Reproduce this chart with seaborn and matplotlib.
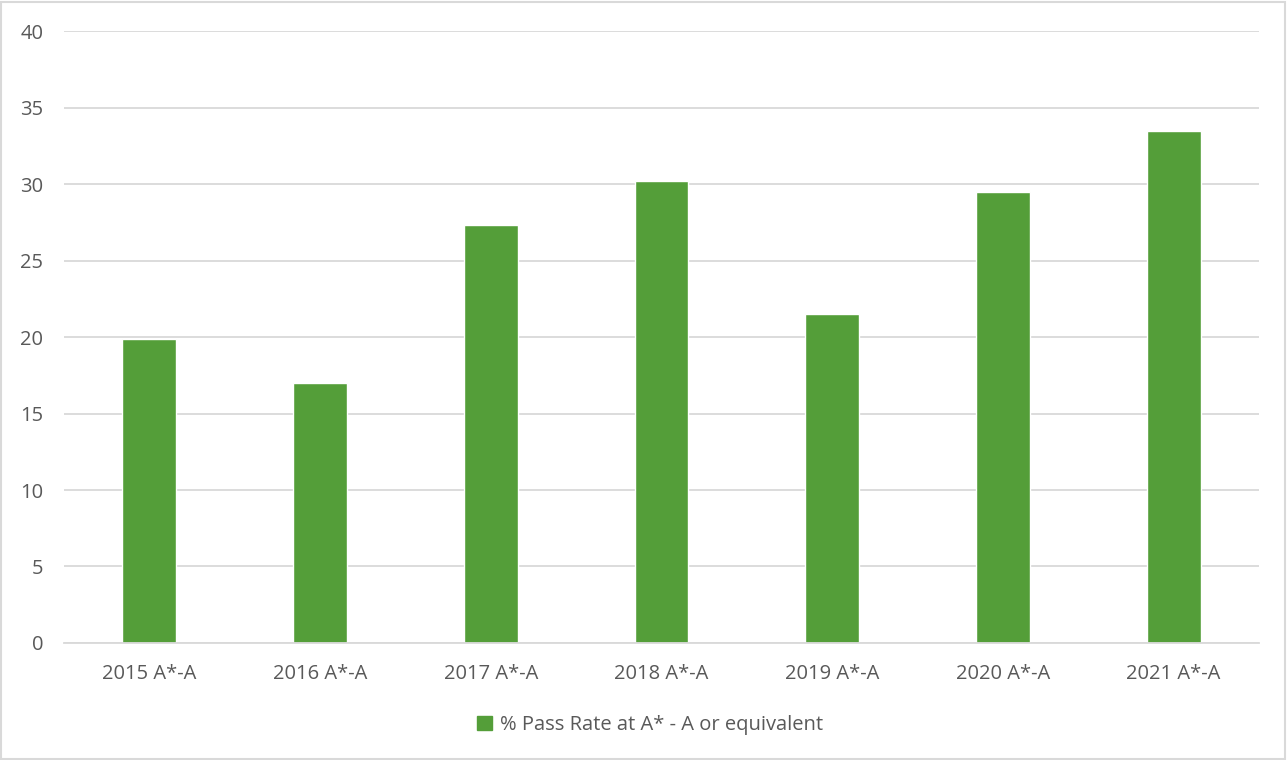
import matplotlib
matplotlib.use("Agg")
import matplotlib.pyplot as plt
import matplotlib.patches as mpatches
import seaborn as sns
import pandas as pd

# data
categories = ["2015 A*-A", "2016 A*-A", "2017 A*-A", "2018 A*-A",
              "2019 A*-A", "2020 A*-A", "2021 A*-A"]
pass_rate = [19.9, 17.0, 27.3, 30.2, 21.5, 29.5, 33.5]
series_name = "% Pass Rate at A* - A or equivalent"
y_ticks = [0, 5, 10, 15, 20, 25, 30, 35, 40]

df = pd.DataFrame({"category": categories, "value": pass_rate})

bar_color = "#549E39"
text_color = "#595959"
grid_color = "#D9D9D9"

sns.set_style("white")
plt.rcParams["font.family"] = ["Open Sans", "DejaVu Sans"]

fig = plt.figure(figsize=(12.88, 7.6), dpi=100)
ax = fig.add_axes([0.0497, 0.154, 0.9278, 0.805])

sns.barplot(data=df, x="category", y="value", color=bar_color,
            width=0.316, saturation=1, ax=ax)

ax.set_ylim(0, 40)
ax.set_xlim(-0.5, len(categories) - 0.5)
ax.set_yticks(y_ticks)
ax.yaxis.grid(True, color=grid_color, linewidth=1.3)
ax.set_axisbelow(True)
for s in ["top", "right", "left"]:
    ax.spines[s].set_visible(False)
ax.spines["bottom"].set_color(grid_color)
ax.spines["bottom"].set_linewidth(1.3)
ax.tick_params(axis="both", length=0, labelsize=14.5, colors=text_color)
ax.tick_params(axis="x", pad=15)
ax.tick_params(axis="y", pad=15)
ax.set_xlabel("")
ax.set_ylabel("")

handle = mpatches.Patch(color=bar_color, label=series_name)
fig.legend(handles=[handle], loc="center", bbox_to_anchor=(0.505, 0.046),
           frameon=False, fontsize=14.5, labelcolor=text_color,
           handlelength=0.75, handleheight=0.75, handletextpad=0.4)

# thin border around the chart
fig.patches.append(mpatches.Rectangle((0.001, 0.001), 0.997, 0.997,
                                      transform=fig.transFigure, fill=False,
                                      edgecolor=grid_color, linewidth=1.5))

fig.savefig("out.png", dpi=100)
